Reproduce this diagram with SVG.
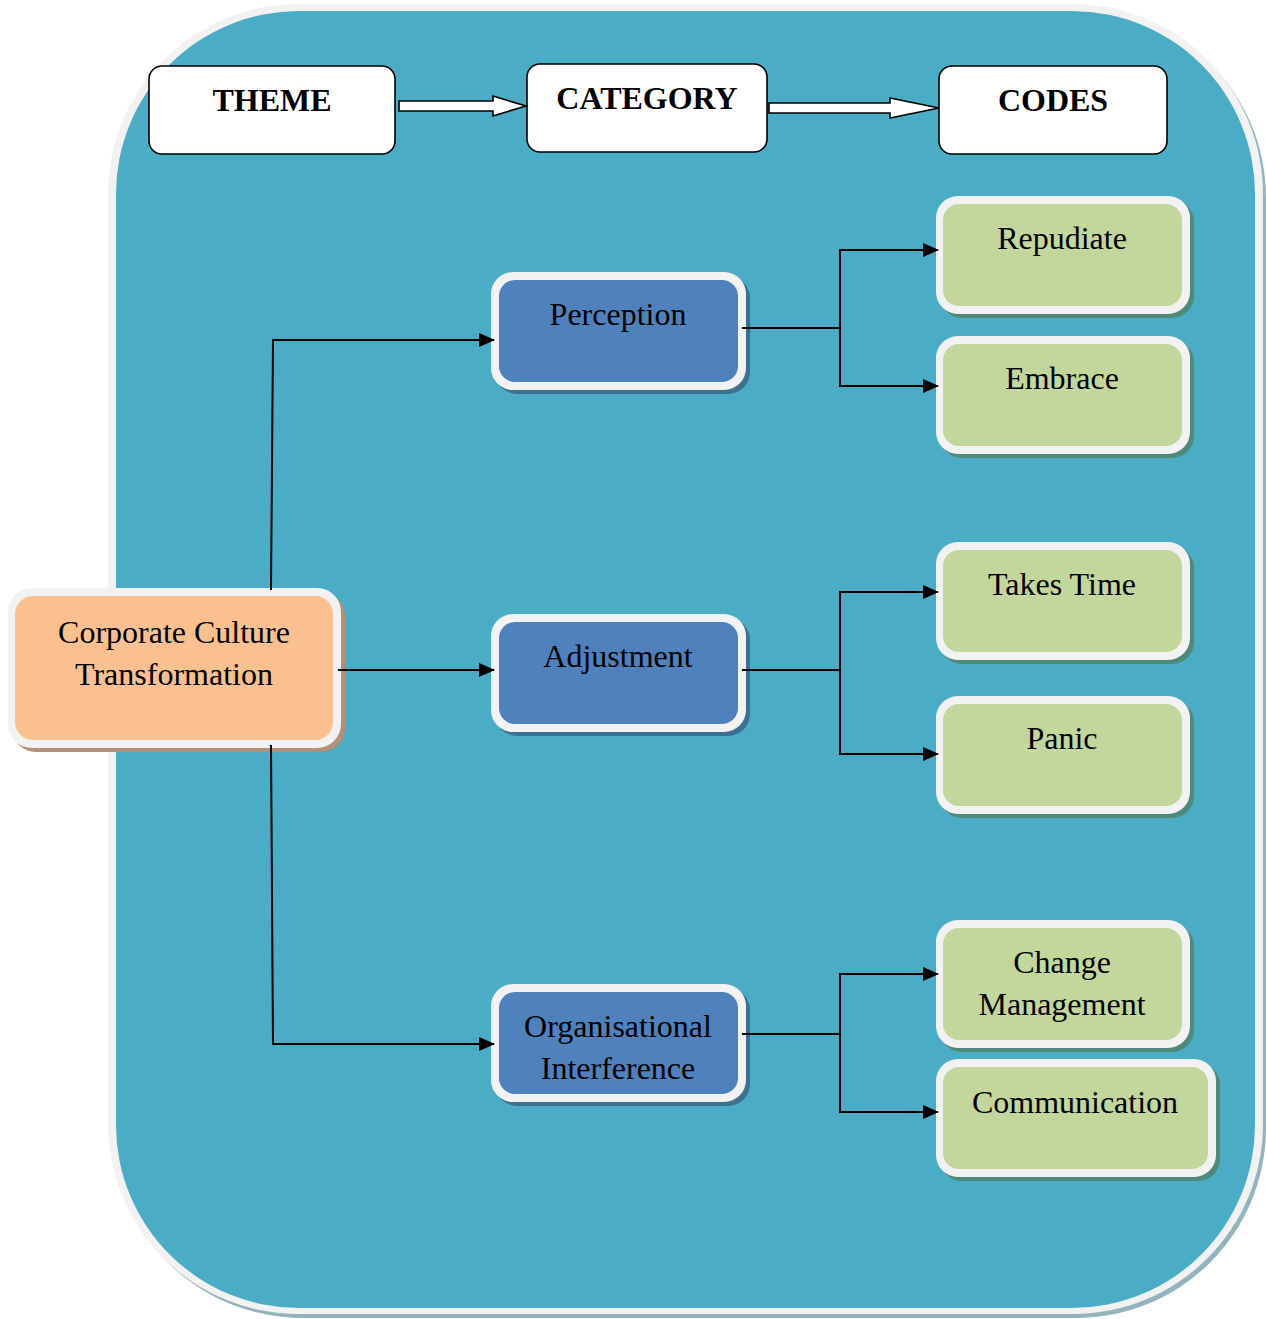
<svg xmlns="http://www.w3.org/2000/svg" width="1266" height="1319" viewBox="0 0 1266 1319">
<style>
text{font-family:"Liberation Serif","Times New Roman",serif;fill:#000;text-anchor:middle}
.hdr{font-size:32px;font-weight:bold}
.lbl{font-size:32px}
.hbox{fill:#fff;stroke:#000;stroke-width:1.6}
.frame{fill:#f2f2f2}
.blue{fill:#4f81bd}
.green{fill:#c3d69b}
.orange{fill:#fac090}
.conn{fill:none;stroke:#000;stroke-width:2}
.barrow{fill:#fff;stroke:#000;stroke-width:1.6;stroke-linejoin:miter}
</style>
<defs>
<marker id="ah" markerWidth="16" markerHeight="14" refX="15" refY="7" orient="auto" markerUnits="userSpaceOnUse">
<path d="M0,0 L16,7 L0,14 Z" fill="#000"/>
</marker>
</defs>
<rect width="1266" height="1319" fill="#fff"/>
<g id="background">
<rect x="112" y="8" width="1154" height="1310" rx="190" ry="190" fill="#93b3bd"/>
<rect x="108" y="4" width="1155" height="1310" rx="190" ry="190" fill="#f2f2f2"/>
<rect x="116" y="11" width="1139" height="1297" rx="183" ry="183" fill="#4aacc5"/>
</g>
<g id="theme-header">
<rect class="hbox" x="149" y="66" width="246" height="88" rx="13"/>
<text class="hdr" x="272" y="111">THEME</text>
</g>
<g id="category-header">
<rect class="hbox" x="527" y="64" width="240" height="88" rx="13"/>
<text class="hdr" x="647" y="109">CATEGORY</text>
</g>
<g id="codes-header">
<rect class="hbox" x="939" y="66" width="228" height="88" rx="13"/>
<text class="hdr" x="1053" y="111">CODES</text>
</g>
<g id="header-arrows">
<path class="barrow" d="M399,101 L493,101 L493,96 L526,106 L493,116 L493,111 L399,111 Z"/>
<path class="barrow" d="M769,103 L890,103 L890,98 L939,108 L890,118 L890,113 L769,113 Z"/>
</g>
<g id="node-corporate-culture">
<rect x="12" y="592" width="333" height="160" rx="24" fill="#b39077"/>
<rect class="frame" x="8" y="588" width="333" height="160" rx="24"/>
<rect class="orange" x="15" y="596" width="318" height="144" rx="18"/>
<text class="lbl" x="174" y="643">Corporate Culture</text>
<text class="lbl" x="174" y="685">Transformation</text>
</g>
<g id="node-perception">
<rect x="495" y="276" width="255" height="118" rx="22" fill="#3c7190"/>
<rect class="frame" x="491" y="272" width="255" height="118" rx="22"/>
<rect class="blue" x="499" y="280" width="239" height="102" rx="16"/>
<text class="lbl" x="618" y="325">Perception</text>
</g>
<g id="node-adjustment">
<rect x="495" y="618" width="255" height="118" rx="22" fill="#3c7190"/>
<rect class="frame" x="491" y="614" width="255" height="118" rx="22"/>
<rect class="blue" x="499" y="622" width="239" height="102" rx="16"/>
<text class="lbl" x="618" y="667">Adjustment</text>
</g>
<g id="node-organisational-interference">
<rect x="495" y="988" width="255" height="118" rx="22" fill="#3c7190"/>
<rect class="frame" x="491" y="984" width="255" height="118" rx="22"/>
<rect class="blue" x="499" y="992" width="239" height="102" rx="16"/>
<text class="lbl" x="618" y="1037">Organisational</text>
<text class="lbl" x="618" y="1079">Interference</text>
</g>
<g id="node-repudiate">
<rect x="940" y="200" width="254" height="118" rx="22" fill="#4e8a79"/>
<rect class="frame" x="936" y="196" width="254" height="118" rx="22"/>
<rect class="green" x="943" y="204" width="239" height="102" rx="16"/>
<text class="lbl" x="1062" y="249">Repudiate</text>
</g>
<g id="node-embrace">
<rect x="940" y="340" width="254" height="118" rx="22" fill="#4e8a79"/>
<rect class="frame" x="936" y="336" width="254" height="118" rx="22"/>
<rect class="green" x="943" y="344" width="239" height="102" rx="16"/>
<text class="lbl" x="1062" y="389">Embrace</text>
</g>
<g id="node-takes-time">
<rect x="940" y="546" width="254" height="118" rx="22" fill="#4e8a79"/>
<rect class="frame" x="936" y="542" width="254" height="118" rx="22"/>
<rect class="green" x="943" y="550" width="239" height="102" rx="16"/>
<text class="lbl" x="1062" y="595">Takes Time</text>
</g>
<g id="node-panic">
<rect x="940" y="700" width="254" height="118" rx="22" fill="#4e8a79"/>
<rect class="frame" x="936" y="696" width="254" height="118" rx="22"/>
<rect class="green" x="943" y="704" width="239" height="102" rx="16"/>
<text class="lbl" x="1062" y="749">Panic</text>
</g>
<g id="node-change-management">
<rect x="940" y="924" width="254" height="128" rx="22" fill="#4e8a79"/>
<rect class="frame" x="936" y="920" width="254" height="128" rx="22"/>
<rect class="green" x="943" y="928" width="239" height="112" rx="16"/>
<text class="lbl" x="1062" y="973">Change</text>
<text class="lbl" x="1062" y="1015">Management</text>
</g>
<g id="node-communication">
<rect x="940" y="1063" width="280" height="118" rx="22" fill="#4e8a79"/>
<rect class="frame" x="936" y="1059" width="280" height="118" rx="22"/>
<rect class="green" x="943" y="1067" width="265" height="102" rx="16"/>
<text class="lbl" x="1075" y="1113">Communication</text>
</g>
<g id="connectors">
<polyline class="conn" points="271,590 273,340 494,340" marker-end="url(#ah)"/>
<line class="conn" x1="338" y1="670" x2="494" y2="670" marker-end="url(#ah)"/>
<polyline class="conn" points="271,745 273,1044 494,1044" marker-end="url(#ah)"/>
<polyline class="conn" points="742,328 840,328 840,250 938,250" marker-end="url(#ah)"/>
<polyline class="conn" points="840,328 840,386 938,386" marker-end="url(#ah)"/>
<polyline class="conn" points="742,670 840,670 840,592 938,592" marker-end="url(#ah)"/>
<polyline class="conn" points="840,670 840,754 938,754" marker-end="url(#ah)"/>
<polyline class="conn" points="742,1034 840,1034 840,974 938,974" marker-end="url(#ah)"/>
<polyline class="conn" points="840,1034 840,1112 938,1112" marker-end="url(#ah)"/>
</g>
</svg>
